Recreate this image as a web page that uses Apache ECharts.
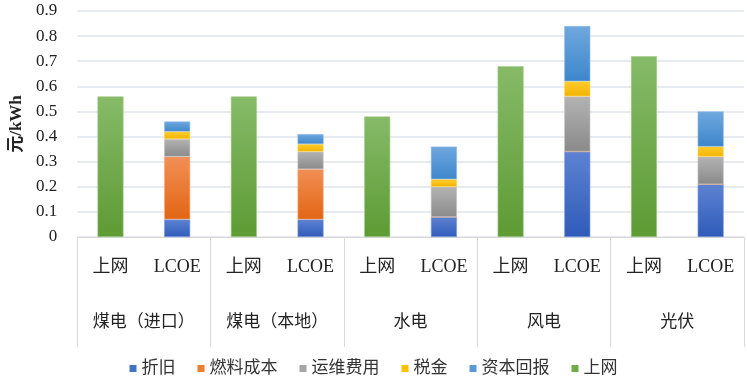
<!DOCTYPE html>
<html><head><meta charset="utf-8">
<script src="https://cdn.jsdelivr.net/npm/echarts@6/dist/echarts.min.js"></script>
<style>html,body{margin:0;padding:0;background:#fff}#c{width:747px;height:382px}</style>
</head><body><div id="c"></div>
<script>
var groups = ['煤电（进口）', '煤电（本地）', '水电', '风电', '光伏'];
var subLabels = ['上网', 'LCOE'];
var seriesNames = ['折旧', '燃料成本', '运维费用', '税金', '资本回报', '上网'];
// LCOE components per group
var zhejiu   = [0.07, 0.07, 0.08, 0.34, 0.21];
var ranliao  = [0.25, 0.20, 0,    0,    0   ];
var yunwei   = [0.07, 0.07, 0.12, 0.22, 0.11];
var shuijin  = [0.03, 0.03, 0.03, 0.06, 0.04];
var ziben    = [0.04, 0.04, 0.13, 0.22, 0.14];
// on-grid price per group
var shangwang = [0.56, 0.56, 0.48, 0.68, 0.72];
var yTicks = [0, 0.1, 0.2, 0.3, 0.4, 0.5, 0.6, 0.7, 0.8, 0.9];

var cats = [];
groups.forEach(function(g){ subLabels.forEach(function(s){ cats.push(s); }); });

function onLCOE(arr){ var r=[]; arr.forEach(function(v){ r.push('-'); r.push(v); }); return r; }
function onGrid(arr){ var r=[]; arr.forEach(function(v){ r.push(v); r.push('-'); }); return r; }

function grad(top, bottom){
  return new echarts.graphic.LinearGradient(0,0,0,1,[{offset:0,color:top},{offset:1,color:bottom}]);
}
var styles = [
  {c:'#4472C4', g:grad('#5d82d2','#2f5bb9'), b:'#7d9be0'},
  {c:'#ED7D31', g:grad('#f28f55','#e26514'), b:'#f6a77a'},
  {c:'#A5A5A5', g:grad('#b3b3b3','#8a8a8a'), b:'#c4c4c4'},
  {c:'#FFC000', g:grad('#ffcc2e','#f2b300'), b:'#ffd65c'},
  {c:'#5B9BD5', g:grad('#6fa8de','#3d86cc'), b:'#8dbbe6'},
  {c:'#70AD47', g:grad('#86ba68','#5d9b34'), b:'#a3cc8c'}
];
var datas = [onLCOE(zhejiu), onLCOE(ranliao), onLCOE(yunwei), onLCOE(shuijin), onLCOE(ziben), onGrid(shangwang)];

var series = seriesNames.map(function(n,i){
  return {
    name:n, type:'bar', stack:'s', data:datas[i], barWidth:'39%',
    xAxisIndex:0,
    itemStyle:{color:styles[i].g, borderColor:styles[i].b, borderWidth:0.6},
    emphasis:{disabled:true}
  };
});

var serif = '"Liberation Serif", "Times New Roman", "Noto Sans CJK SC", serif';
var chart = echarts.init(document.getElementById('c'));
chart.setOption({
  animation:false,
  grid:{left:77, right:3, top:11, bottom:145},
  legend:{
    bottom:0, left:'center', itemWidth:7, itemHeight:7, itemGap:22,
    data:seriesNames.map(function(n,i){return {name:n, itemStyle:{color:styles[i].c, borderWidth:0}};}),
    textStyle:{fontFamily:serif, fontSize:17, color:'#333'},
    icon:'rect'
  },
  xAxis:[
    {type:'category', data:cats, position:'bottom',
      axisLine:{show:true, lineStyle:{color:'#d9d9d9', width:1}},
      axisTick:{show:false},
      axisLabel:{margin:21, fontFamily:serif, fontSize:18, color:'#222', interval:0}
    },
    {type:'category', data:groups, position:'bottom',
      axisLine:{show:false},
      axisTick:{show:true, length:110, lineStyle:{color:'#d9d9d9', width:1}},
      axisLabel:{margin:77, fontFamily:serif, fontSize:17, color:'#222', interval:0}
    }
  ],
  yAxis:{type:'value', min:0, max:0.9, interval:0.1,
    name:'元/kWh', nameLocation:'middle', nameGap:50, nameRotate:90,
    nameTextStyle:{fontFamily:serif, fontSize:17, fontWeight:'bold', color:'#222'},
    axisLine:{show:false}, axisTick:{show:false},
    splitLine:{lineStyle:{color:'#dfe3ea', width:1.5}},
    axisLabel:{margin:20, fontFamily:serif, fontSize:17, color:'#222',
      formatter:function(v){ var i = yTicks.indexOf(Math.round(v*10)/10); return i>=0 ? String(yTicks[i]) : ''; }}
  },
  series:series
});
</script></body></html>
